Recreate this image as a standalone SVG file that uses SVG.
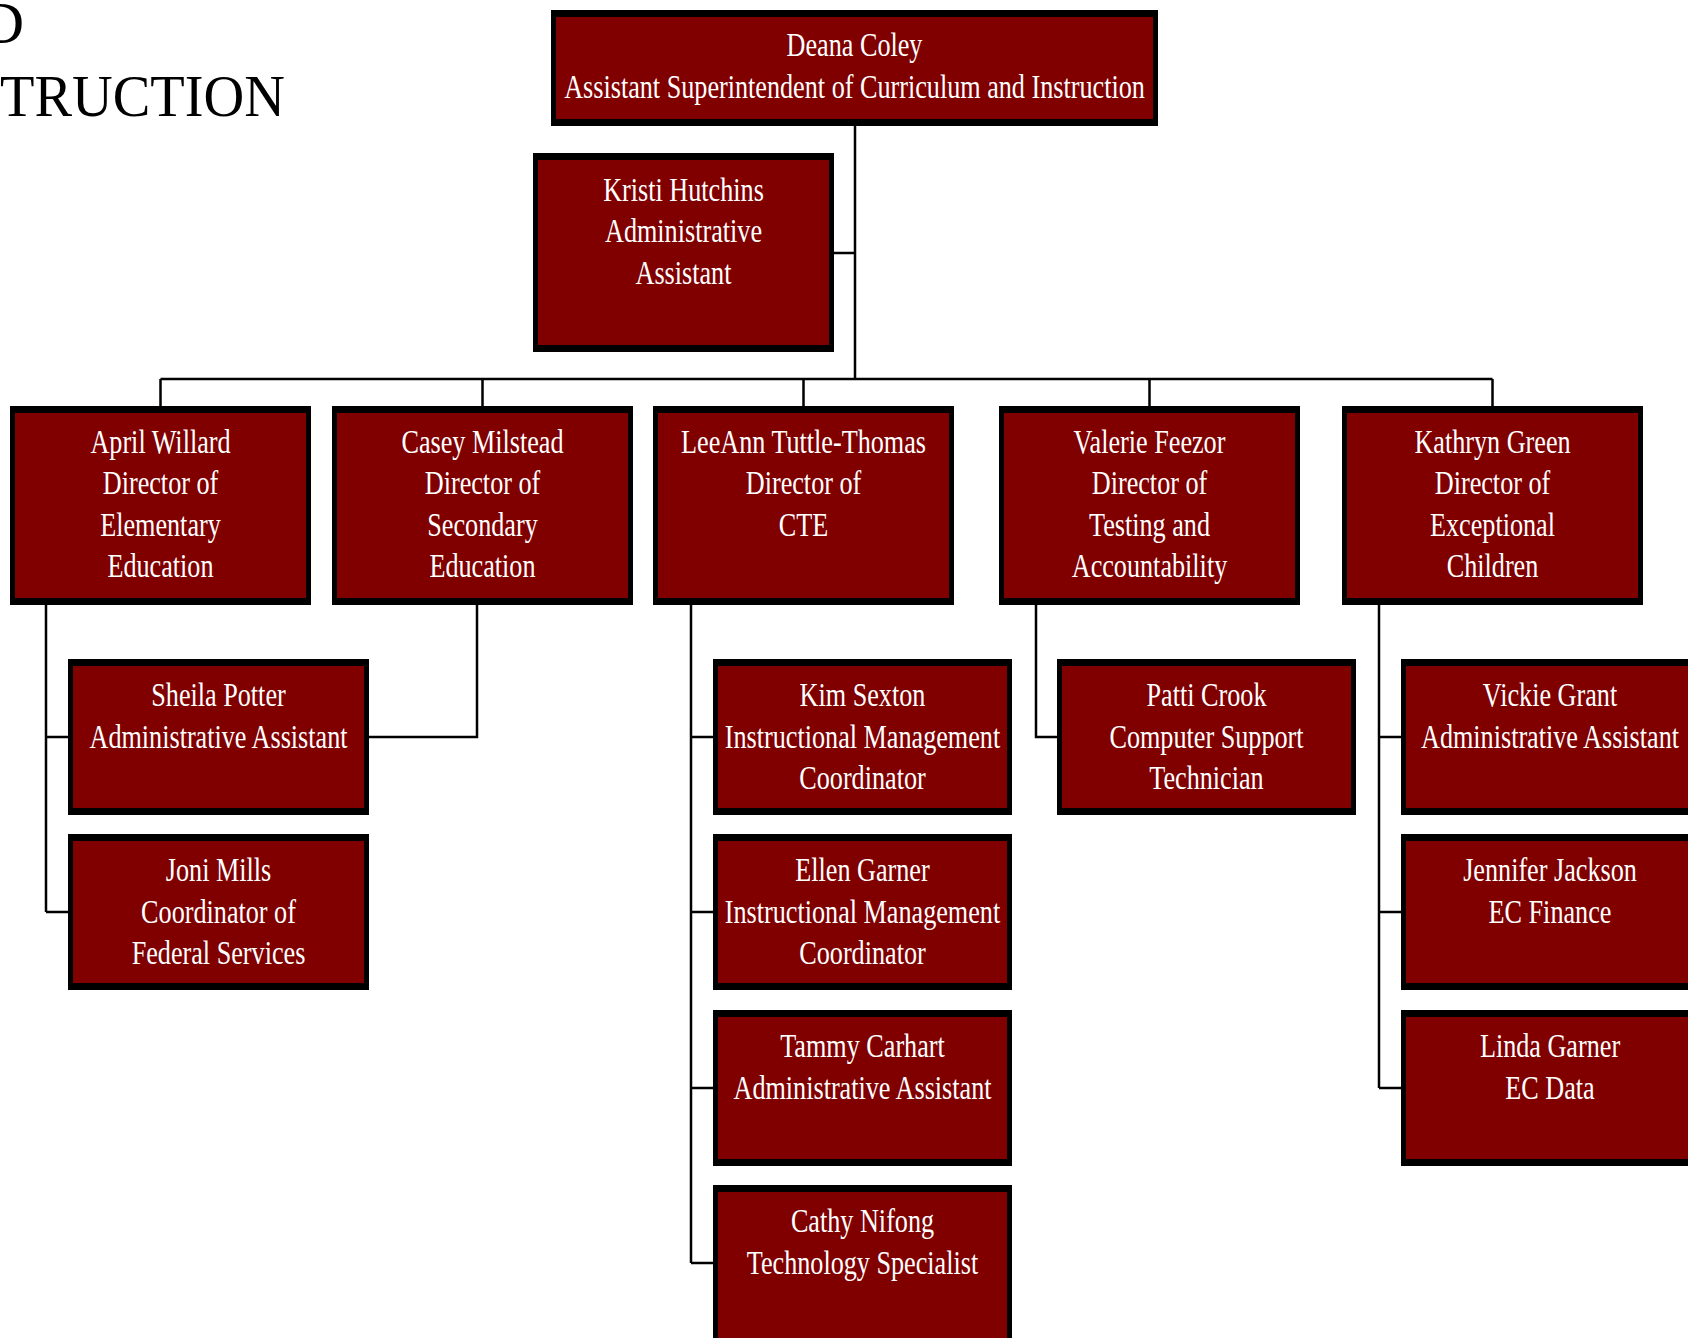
<svg xmlns="http://www.w3.org/2000/svg" width="1688" height="1338" viewBox="0 0 1688 1338">
<style>
.b{fill:#000}
.f{fill:#800000}
.t{font-family:"Liberation Serif","Times New Roman",serif;font-size:34px;fill:#fff;text-anchor:middle}
.title{font-family:"Liberation Serif","Times New Roman",serif;font-size:60px;fill:#000}
.c{fill:none;stroke:#000;stroke-width:2.5}
</style>
<rect width="1688" height="1338" fill="#fff"/>
<g id="title">
<text class="title" x="24" y="43" text-anchor="end">D</text>
<text class="title" x="0" y="116" textLength="285" lengthAdjust="spacingAndGlyphs">TRUCTION</text>
</g>
<g id="connectors">
<path class="c" d="M855 126V379M834 253H855M160.5 379H1492.5M160.5 379V406M482.5 379V406M803.5 379V406M1149.5 379V406M1492.5 379V406"/>
<path class="c" d="M46 605V912M46 737H68M46 912H68"/>
<path class="c" d="M477 605V737H369"/>
<path class="c" d="M691 605V1263M691 737H713M691 912H713M691 1088H713M691 1263H713"/>
<path class="c" d="M1036 605V737H1057"/>
<path class="c" d="M1379 605V1088M1379 737H1401M1379 912H1401M1379 1088H1401"/>
</g>
<g id="n-coley">
<rect class="b" x="551" y="10" width="607" height="116"/><rect class="f" x="556" y="17" width="597" height="102"/>
<text class="t" transform="matrix(0.77 0 0 1 854.5 0)"><tspan x="0" y="56">Deana Coley</tspan><tspan x="0" y="98">Assistant Superintendent of Curriculum and Instruction</tspan></text>
</g>
<g id="n-hutchins">
<rect class="b" x="533" y="153" width="301" height="199"/><rect class="f" x="538" y="160" width="291" height="185"/>
<text class="t" transform="matrix(0.77 0 0 1 683.5 0)"><tspan x="0" y="201">Kristi Hutchins</tspan><tspan x="0" y="242.5">Administrative</tspan><tspan x="0" y="284">Assistant</tspan></text>
</g>
<g id="n-willard">
<rect class="b" x="10" y="406" width="301" height="199"/><rect class="f" x="15" y="413" width="291" height="185"/>
<text class="t" transform="matrix(0.77 0 0 1 160.5 0)"><tspan x="0" y="453">April Willard</tspan><tspan x="0" y="494.5">Director of</tspan><tspan x="0" y="536">Elementary</tspan><tspan x="0" y="577.5">Education</tspan></text>
</g>
<g id="n-milstead">
<rect class="b" x="332" y="406" width="301" height="199"/><rect class="f" x="337" y="413" width="291" height="185"/>
<text class="t" transform="matrix(0.77 0 0 1 482.5 0)"><tspan x="0" y="453">Casey Milstead</tspan><tspan x="0" y="494.5">Director of</tspan><tspan x="0" y="536">Secondary</tspan><tspan x="0" y="577.5">Education</tspan></text>
</g>
<g id="n-tuttle">
<rect class="b" x="653" y="406" width="301" height="199"/><rect class="f" x="658" y="413" width="291" height="185"/>
<text class="t" transform="matrix(0.77 0 0 1 803.5 0)"><tspan x="0" y="453">LeeAnn Tuttle-Thomas</tspan><tspan x="0" y="494.5">Director of</tspan><tspan x="0" y="536">CTE</tspan></text>
</g>
<g id="n-feezor">
<rect class="b" x="999" y="406" width="301" height="199"/><rect class="f" x="1004" y="413" width="291" height="185"/>
<text class="t" transform="matrix(0.77 0 0 1 1149.5 0)"><tspan x="0" y="453">Valerie Feezor</tspan><tspan x="0" y="494.5">Director of</tspan><tspan x="0" y="536">Testing and</tspan><tspan x="0" y="577.5">Accountability</tspan></text>
</g>
<g id="n-green">
<rect class="b" x="1342" y="406" width="301" height="199"/><rect class="f" x="1347" y="413" width="291" height="185"/>
<text class="t" transform="matrix(0.77 0 0 1 1492.5 0)"><tspan x="0" y="453">Kathryn Green</tspan><tspan x="0" y="494.5">Director of</tspan><tspan x="0" y="536">Exceptional</tspan><tspan x="0" y="577.5">Children</tspan></text>
</g>
<g id="n-potter">
<rect class="b" x="68" y="659" width="301" height="156"/><rect class="f" x="73" y="666" width="291" height="142"/>
<text class="t" transform="matrix(0.77 0 0 1 218.5 0)"><tspan x="0" y="706">Sheila Potter</tspan><tspan x="0" y="748">Administrative Assistant</tspan></text>
</g>
<g id="n-mills">
<rect class="b" x="68" y="834" width="301" height="156"/><rect class="f" x="73" y="841" width="291" height="142"/>
<text class="t" transform="matrix(0.77 0 0 1 218.5 0)"><tspan x="0" y="881">Joni Mills</tspan><tspan x="0" y="923">Coordinator of</tspan><tspan x="0" y="964">Federal Services</tspan></text>
</g>
<g id="n-sexton">
<rect class="b" x="713" y="659" width="299" height="156"/><rect class="f" x="718" y="666" width="289" height="142"/>
<text class="t" transform="matrix(0.77 0 0 1 862.5 0)"><tspan x="0" y="706">Kim Sexton</tspan><tspan x="0" y="748">Instructional Management</tspan><tspan x="0" y="789">Coordinator</tspan></text>
</g>
<g id="n-egarner">
<rect class="b" x="713" y="834" width="299" height="156"/><rect class="f" x="718" y="841" width="289" height="142"/>
<text class="t" transform="matrix(0.77 0 0 1 862.5 0)"><tspan x="0" y="881">Ellen Garner</tspan><tspan x="0" y="923">Instructional Management</tspan><tspan x="0" y="964">Coordinator</tspan></text>
</g>
<g id="n-carhart">
<rect class="b" x="713" y="1010" width="299" height="156"/><rect class="f" x="718" y="1017" width="289" height="142"/>
<text class="t" transform="matrix(0.77 0 0 1 862.5 0)"><tspan x="0" y="1057">Tammy Carhart</tspan><tspan x="0" y="1099">Administrative Assistant</tspan></text>
</g>
<g id="n-nifong">
<rect class="b" x="713" y="1185" width="299" height="160"/><rect class="f" x="718" y="1192" width="289" height="146"/>
<text class="t" transform="matrix(0.77 0 0 1 862.5 0)"><tspan x="0" y="1232">Cathy Nifong</tspan><tspan x="0" y="1274">Technology Specialist</tspan></text>
</g>
<g id="n-crook">
<rect class="b" x="1057" y="659" width="299" height="156"/><rect class="f" x="1062" y="666" width="289" height="142"/>
<text class="t" transform="matrix(0.77 0 0 1 1206.5 0)"><tspan x="0" y="706">Patti Crook</tspan><tspan x="0" y="748">Computer Support</tspan><tspan x="0" y="789">Technician</tspan></text>
</g>
<g id="n-grant">
<rect class="b" x="1401" y="659" width="301" height="156"/><rect class="f" x="1406" y="666" width="291" height="142"/>
<text class="t" transform="matrix(0.77 0 0 1 1550 0)"><tspan x="0" y="706">Vickie Grant</tspan><tspan x="0" y="748">Administrative Assistant</tspan></text>
</g>
<g id="n-jackson">
<rect class="b" x="1401" y="834" width="301" height="156"/><rect class="f" x="1406" y="841" width="291" height="142"/>
<text class="t" transform="matrix(0.77 0 0 1 1550 0)"><tspan x="0" y="881">Jennifer Jackson</tspan><tspan x="0" y="923">EC Finance</tspan></text>
</g>
<g id="n-lgarner">
<rect class="b" x="1401" y="1010" width="301" height="156"/><rect class="f" x="1406" y="1017" width="291" height="142"/>
<text class="t" transform="matrix(0.77 0 0 1 1550 0)"><tspan x="0" y="1057">Linda Garner</tspan><tspan x="0" y="1099">EC Data</tspan></text>
</g>
</svg>
